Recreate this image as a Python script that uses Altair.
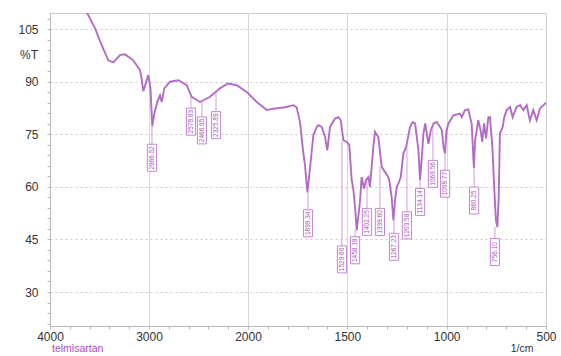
import altair as alt
import pandas as pd

# ---- spectrum data (wavenumber, %T) ----
wavenumber = [3700, 3623, 3545, 3478, 3411, 3361, 3293, 3242, 3159, 3091,
              3076, 3058, 3035, 3007, 2985, 2967, 2944, 2914, 2889, 2872,
              2845, 2788, 2704, 2619, 2569, 2485, 2384, 2283, 2202, 2114,
              2013, 1956, 1906, 1873, 1814, 1772, 1755, 1738, 1723, 1713,
              1701, 1688, 1671, 1654, 1646, 1629, 1612, 1601, 1587, 1562,
              1545, 1533, 1520, 1503, 1490, 1478, 1470, 1461, 1453, 1444,
              1436, 1428, 1416, 1406, 1394, 1386, 1369, 1361, 1344, 1327,
              1310, 1294, 1289, 1277, 1268, 1260, 1251, 1243, 1231, 1218,
              1204, 1184, 1171, 1159, 1142, 1134, 1125, 1117, 1108, 1092,
              1080, 1066, 1050, 1033, 1024, 1016, 1008, 1001, 991, 966,
              933, 924, 908, 891, 874, 863, 857, 841, 829, 821,
              812, 802, 790, 782, 770, 760, 752, 745, 738, 732,
              718, 710, 698, 681, 668, 648, 631, 614, 597, 581,
              564, 547, 531, 500]
transmittance = [113.5, 109.5, 105.2, 100.4, 96.1, 95.5, 97.6, 97.8, 96.1, 93.3,
                 91.0, 87.3, 89.3, 91.9, 88.1, 77.3, 81.3, 84.4, 86.1, 84.2,
                 88.1, 90.0, 90.4, 89.0, 85.7, 84.2, 85.7, 88.1, 89.5, 89.0,
                 87.1, 84.2, 81.9, 82.3, 82.7, 83.3, 82.7, 78.4, 70.4, 66.1,
                 58.4, 65.3, 74.7, 77.1, 77.6, 77.1, 74.2, 70.4, 77.1, 79.5,
                 79.9, 79.0, 73.3, 72.8, 71.9, 61.9, 59.5, 54.2, 47.6, 51.9,
                 56.1, 62.8, 59.5, 61.9, 62.8, 60.0, 71.4, 75.7, 74.2, 65.7,
                 64.2, 62.8, 61.9, 57.1, 50.4, 56.1, 60.0, 60.9, 62.8, 69.5,
                 71.4, 77.1, 78.5, 78.1, 70.4, 61.9, 68.5, 75.2, 78.1, 72.3,
                 76.1, 78.1, 78.5, 77.1, 76.1, 71.4, 69.5, 76.1, 78.1, 80.4,
                 80.9, 79.9, 81.9, 82.1, 77.9, 65.3, 73.3, 79.0, 76.1, 72.8,
                 78.1, 73.8, 79.9, 79.9, 71.4, 59.0, 50.4, 48.5, 57.1, 75.2,
                 77.1, 79.9, 81.9, 82.8, 79.9, 82.8, 83.3, 81.9, 83.3, 79.0,
                 81.9, 79.0, 82.3, 84.0]

# ---- peak labels ----
peak_wn = [2970, 2576, 2465, 2323, 1698, 1527, 1461, 1401, 1336, 1265,
           1200, 1134, 1069, 1008, 862, 757]
peak_text = ["2966.52", "2578.83", "2466.95", "2325.89", "1699.34", "1529.60",
             "1458.18", "1402.25", "1338.60", "1267.23", "1203.58", "1134.14",
             "1068.56", "1008.77", "860.25", "756.10"]
peak_T = [77.3, 86.0, 84.2, 87.0, 58.4, 73.0, 47.6, 61.9, 65.7, 50.4,
          71.5, 61.9, 78.1, 69.5, 65.3, 48.5]
label_T = [68.3, 78.6, 76.1, 77.6, 49.6, 39.3, 41.9, 50.0, 50.0, 42.9,
           49.0, 55.7, 63.7, 60.9, 56.1, 41.4]

x_major = [4000, 3000, 2000, 1500, 1000, 500]
y_major = [30, 45, 60, 75, 90, 105]

PURPLE = "#a452b8"
LIGHT = "#c385d2"

df = pd.DataFrame({"wn": wavenumber, "T": transmittance})
lab = pd.DataFrame({"wn": peak_wn, "txt": peak_text, "peak": peak_T, "ly": label_T})

x_vals = list(range(4000, 2000, -200)) + list(range(2000, 499, -100))
y_vals = list(range(21, 110, 3))

xs = alt.Scale(domain=[4000, 2000, 500], range=[0, 198, 496], nice=False, zero=False)
ys = alt.Scale(domain=[20.3, 109.6], nice=False, zero=False)

xaxis = alt.Axis(
    values=x_vals, format="d",
    labelExpr="indexof(%s, datum.value) >= 0 ? datum.label : ''" % str(x_major),
    labelFlush=False, labelOverlap=False,
    grid=True, gridColor="#d6d6d6",
    gridOpacity={"condition": {"test": "indexof([3000,2000,1500,1000], datum.value) >= 0", "value": 1}, "value": 0},
    tickSize=3, tickColor="#b8b8b8", domainColor="#b8b8b8",
    labelFont="Liberation Sans", labelFontSize=12, labelColor="#333333", labelPadding=2,
)
yaxis = alt.Axis(
    values=y_vals, format="d",
    labelExpr="indexof(%s, datum.value) >= 0 ? datum.label : ''" % str(y_major),
    labelOverlap=False,
    grid=True, gridColor="#c8c8c8", gridDash=[2, 3],
    gridOpacity={"condition": {"test": "indexof([30,45,60,75,90,105], datum.value) >= 0", "value": 1}, "value": 0},
    tickSize=3, tickColor="#b8b8b8", domainColor="#b8b8b8",
    labelFont="Liberation Sans", labelFontSize=12, labelColor="#333333", labelPadding=9,
)

X = alt.X("wn:Q", scale=xs, axis=xaxis, title=None)

line = alt.Chart(df).mark_line(color=PURPLE, strokeWidth=1.9, clip=True, opacity=0.85).encode(
    x=X, y=alt.Y("T:Q", scale=ys, axis=yaxis, title=None)
)

leaders = alt.Chart(lab).mark_rule(color=LIGHT, strokeWidth=0.8).encode(
    x=X, y=alt.Y("peak:Q", scale=ys, axis=yaxis, title=None), y2="ly:Q"
)

box_path = "M-0.34,-1H0.34V1H-0.34Z"
boxes = alt.Chart(lab).mark_point(
    shape=box_path, size=729, filled=True, fill="white", stroke=LIGHT, strokeWidth=1, opacity=1
).encode(x=X, y=alt.Y("ly:Q", scale=ys, axis=yaxis, title=None))

texts = alt.Chart(lab).mark_text(
    angle=270, fontSize=6.5, color=PURPLE, font="Liberation Sans", baseline="middle", align="center"
).encode(x=X, y=alt.Y("ly:Q", scale=ys, axis=yaxis, title=None), text="txt:N")

pct = alt.Chart(pd.DataFrame({"v": [97.5], "t": ["%T"]})).mark_text(
    align="right", baseline="middle", fontSize=12, font="Liberation Sans", color="#333333"
).encode(x=alt.value(-12), y=alt.Y("v:Q", scale=ys, axis=yaxis, title=None), text="t:N")

name = alt.Chart(pd.DataFrame({"t": ["telmisartan"]})).mark_text(
    align="left", baseline="middle", fontSize=10.5, font="Liberation Sans", color="#b048c0"
).encode(x=alt.value(2), y=alt.value(336), text="t:N")

unit = alt.Chart(pd.DataFrame({"t": ["1/cm"]})).mark_text(
    align="center", baseline="middle", fontSize=10.5, font="Liberation Sans", color="#333333"
).encode(x=alt.value(472), y=alt.value(336), text="t:N")

chart = alt.layer(line, leaders, boxes, texts, pct, name, unit).properties(
    width=496, height=313,
    autosize=alt.AutoSizeParams(type="none"),
    padding={"left": 50, "top": 13, "right": 15, "bottom": 30},
).configure_view(stroke="#cccccc", strokeWidth=1)

chart.save("out.html", embed_options={"renderer": "svg", "actions": False})
